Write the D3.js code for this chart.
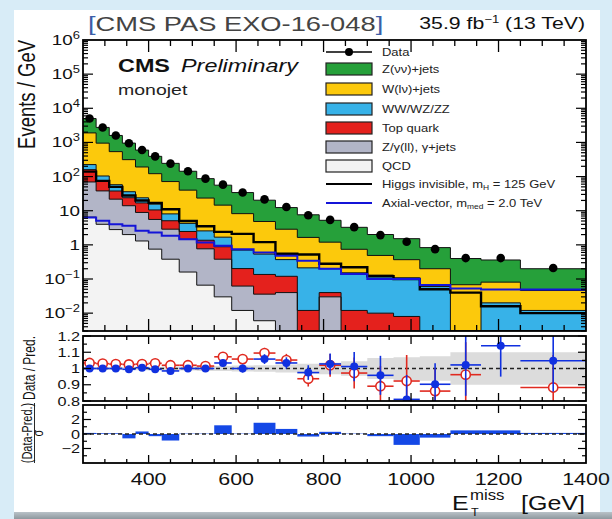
<!DOCTYPE html>
<html><head><meta charset="utf-8">
<script src="https://cdn.jsdelivr.net/npm/d3@7"></script>
<style>
html,body{margin:0;padding:0;background:#d8ecf7;}
svg{display:block;font-family:"Liberation Sans",Arial,sans-serif;}
</style></head><body>
<svg id="c" width="612" height="519"></svg>
<script>
// ---------------- data ----------------
const edges = [250,280,310,340,370,400,430,470,510,550,590,640,690,740,790,840,900,960,1020,1090,1160,1250,1400];
const dataVals = [5000,2750,1600,950,600,390,240,143,87,58,34,21.5,12.8,7.4,5.4,3.3,1.93,1.23,0.75,0.41,0.41,0.21];
const zvv   = [3100,1796,1062,642,406,270,172.5,103,63.5,41.4,25.8,15.5,9.5,5.95,4.04,2.52,1.52,1.15,0.63,0.33,0.28,0.154];
const wlv   = [1675,850,480,277,167,106,63.4,35.8,20.9,12.9,7.5,4.3,2.5,1.44,1.0,0.59,0.36,0.26,0.14,0.068,0.061,0.034];
const dibos = [65,30,20,12,7,5,3,1.8,1.2,0.8,0.5,0.4,0.25,0.2,0.16,0.14,0.12,0.1,0.06,0,0.02,0.012];
const topQuark = [90,36,16,10,8,5,2.2,1.0,0.6,0.5,0.14,0.1,0.08,0.012,0.01,0.012,0.01,0.008,0,0,0,0];
const zll   = [63,34,19,12,7.6,4.8,2.5,1.3,0.7,0.35,0.05,0.03,0.04,0,0.03,0,0,0,0,0,0,0];
const qcd   = [6.5,4.0,2.8,2.0,1.3,0.75,0.38,0.16,0.066,0.03,0.012,0.006,0,0,0,0,0,0,0,0,0,0];
const higgs = [140,75,50,28,20,17,11,5,3.5,2.4,2.1,1.2,0.55,0.52,0.28,0.22,0.12,0.1,0.05,0.04,0.016,0.01];
const axial = [6.3,5.1,4.0,3.6,2.6,2.3,1.84,1.47,1.17,0.94,0.75,0.6,0.48,0.34,0.2,0.14,0.1,0.1,0.067,0.053,0.049,0.049];
const ratioPost    = [1.0,1.0,1.0,0.995,1.005,0.995,0.985,1.0,1.0,1.034,1.0,1.058,1.034,0.975,1.028,1.012,0.958,0.81,0.903,1.022,1.14,1.048];
const ratioPostErr = [0.004,0.005,0.006,0.008,0.009,0.011,0.013,0.016,0.02,0.022,0.025,0.03,0.035,0.045,0.065,0.09,0.12,0.15,0.13,0.19,0.19,0.19];
const ratioPre     = [1.034,1.03,1.027,1.025,1.027,1.032,1.02,1.02,1.015,1.072,1.058,1.095,1.052,0.937,1.02,0.972,0.891,0.923,0.861,0.962,null,0.883];
const ratioPreErr  = [0.005,0.006,0.007,0.009,0.01,0.012,0.014,0.017,0.021,0.024,0.027,0.032,0.038,0.048,0.07,0.095,0.125,0.16,0.14,0.2,0.2,0.2];
const bandErr      = [0.008,0.008,0.008,0.009,0.01,0.01,0.012,0.013,0.015,0.016,0.018,0.02,0.025,0.03,0.035,0.045,0.065,0.07,0.075,0.1,0.1,0.1];
const pullVals     = [0.15,0.1,0.1,-0.6,0.35,-0.3,-0.9,0.05,0.05,1.2,0.05,1.55,0.7,-0.35,0.3,0.05,-0.3,-1.5,-0.5,0.5,0.5,0.15];
const xTickLabels = [400,600,800,1000,1200,1400];
const yTickExps = [6,5,4,3,2,1,0,-1,-2];
const ratioTicks = [0.8,0.9,1.0,1.1,1.2];
const ratioTickLabels = ["0.8","0.9","1","1.1","1.2"];
const pullTicks = [-2,0,2];
const pullTickLabels = ["\u22122","0","2"];
const legendLabels = ["Data","Z(\u03bd\u03bd)+jets","W(l\u03bd)+jets","WW/WZ/ZZ","Top quark","Z/\u03b3(ll), \u03b3+jets","QCD","Higgs invisible","Axial-vector"];

// ---------------- layout ----------------
const svg = d3.select('#c');
const SX = 1.3;
const X0 = 83, X1 = 586;
const x = d3.scaleLinear().domain([250,1400]).range([X0,X1]);
const yMain = d3.scaleLog().domain([0.003,1e6]).range([331,40]).clamp(true);
const yRatio = d3.scaleLinear().domain([0.8,1.2]).range([401,336]);
const yPull = d3.scaleLinear().domain([-4,4]).range([463,405]);

svg.append('rect').attr('width',612).attr('height',519).attr('fill','#d8ecf7');
svg.append('rect').attr('x',14).attr('y',10).attr('width',586).attr('height',502).attr('fill','#ffffff');
const defs = svg.append('defs');
const grad = defs.append('linearGradient').attr('id','sh').attr('x1',0).attr('y1',0).attr('x2',0).attr('y2',1);
grad.append('stop').attr('offset','0').attr('stop-color','#b9c2c8');
grad.append('stop').attr('offset','1').attr('stop-color','#8e989e');
svg.append('rect').attr('x',14).attr('y',512).attr('width',598).attr('height',7).attr('fill','url(#sh)');

function clip(id,y0,y1){ defs.append('clipPath').attr('id',id).append('rect').attr('x',X0).attr('y',y0).attr('width',X1-X0).attr('height',y1-y0); }
clip('cm',40,331); clip('cr',336,401); clip('cp',405,463);

function T(parent,px,py,o){
  const t = parent.append('text')
    .attr('transform',`translate(${px},${py}) scale(${o.sx||SX},1)${o.rot?' rotate(-90)':''}`)
    .attr('font-size',o.fs).attr('text-anchor',o.anchor||'start').attr('fill',o.fill||'#000');
  if(o.weight) t.attr('font-weight',o.weight);
  if(o.style) t.attr('font-style',o.style);
  if(o.text!==undefined) t.text(o.text);
  return t;
}

const bins = edges.slice(0,-1).map((e,i)=>({lo:e,hi:edges[i+1],c:(e+edges[i+1])/2}));
function stepPts(vals){ const p=[]; vals.forEach((v,i)=>{ if(v===null) return; p.push([edges[i],v]); p.push([edges[i+1],v]); }); return p; }

// ---------------- main panel ----------------
const gm = svg.append('g').attr('clip-path','url(#cm)');
const keys = ['qcd','zll','top','vv','wlv','zvv'];
const colors = {qcd:'#f3f3f3',zll:'#b2b5c7',top:'#e4211d',vv:'#37b2e8',wlv:'#fcc90c',zvv:'#26a03a'};
const rows = bins.map((b,i)=>({qcd:qcd[i],zll:zll[i],top:topQuark[i],vv:dibos[i],wlv:wlv[i],zvv:zvv[i]}));
const series = d3.stack().keys(keys)(rows);
const area = d3.area().x(d=>x(d[0])).y0(331).y1(d=>yMain(Math.max(d[1],1e-5)));
const line = d3.line().x(d=>x(d[0])).y(d=>yMain(Math.max(d[1],1e-5)));
series.slice().reverse().forEach(s=>{
  gm.append('path').attr('d',area(stepPts(s.map(d=>d[1])))).attr('fill',colors[s.key]);
});
series.forEach(s=>{
  gm.append('path').attr('d',line(stepPts(s.map(d=>d[1])))).attr('fill','none').attr('stroke','#111').attr('stroke-width',1);
});
gm.append('path').attr('d',line(stepPts(higgs))).attr('fill','none').attr('stroke','#000').attr('stroke-width',2.4);
gm.append('path').attr('d',line(stepPts(axial))).attr('fill','none').attr('stroke','#1414d8').attr('stroke-width',2);
gm.selectAll('circle.d').data(bins).enter().append('circle')
  .attr('cx',d=>x(d.c)).attr('cy',(d,i)=>yMain(dataVals[i])).attr('r',4.3).attr('fill','#000');

// ---------------- ratio panel ----------------
const gr = svg.append('g').attr('clip-path','url(#cr)');
const bandArea = d3.area().x(d=>x(d[0])).y0(d=>yRatio(1-d[1])).y1(d=>yRatio(1+d[1]));
gr.append('path').attr('d',bandArea(stepPts(bandErr))).attr('fill','#dcdcdc');
gr.append('line').attr('x1',X0).attr('x2',X1).attr('y1',yRatio(1)).attr('y2',yRatio(1))
  .attr('stroke','#222').attr('stroke-width',1.6).attr('stroke-dasharray','4,3');
function ratioSeries(vals,errs,col,open){
  bins.forEach((b,i)=>{
    const v = vals[i]; if(v===null) return;
    gr.append('line').attr('x1',x(b.lo)).attr('x2',x(b.hi)).attr('y1',yRatio(v)).attr('y2',yRatio(v)).attr('stroke',col).attr('stroke-width',1.6);
    gr.append('line').attr('x1',x(b.c)).attr('x2',x(b.c)).attr('y1',yRatio(v-errs[i])).attr('y2',yRatio(v+errs[i])).attr('stroke',col).attr('stroke-width',1.6);
    gr.append('circle').attr('cx',x(b.c)).attr('cy',yRatio(v)).attr('r',open?4.6:4)
      .attr('fill',open?'#fff':col).attr('stroke',col).attr('stroke-width',open?1.6:0);
  });
}
ratioSeries(ratioPre,ratioPreErr,'#e02a20',true);
ratioSeries(ratioPost,ratioPostErr,'#1030e0',false);

// ---------------- pull panel ----------------
const gp = svg.append('g').attr('clip-path','url(#cp)');
gp.selectAll('rect.p').data(bins).enter().append('rect')
  .attr('x',d=>x(d.lo)).attr('width',d=>x(d.hi)-x(d.lo))
  .attr('y',(d,i)=>yPull(Math.max(0,pullVals[i]))).attr('height',(d,i)=>Math.abs(yPull(pullVals[i])-yPull(0)))
  .attr('fill','#1448e6');
gp.append('line').attr('x1',X0).attr('x2',X1).attr('y1',yPull(0)).attr('y2',yPull(0))
  .attr('stroke','#222').attr('stroke-width',1.4).attr('stroke-dasharray','4,3');

// ---------------- frames & ticks ----------------
const axG = svg.append('g').attr('stroke','#000');
function frame(y0,y1){ axG.append('rect').attr('x',X0).attr('y',y0).attr('width',X1-X0).attr('height',y1-y0).attr('fill','none').attr('stroke-width',1.8); }
frame(40,331); frame(336,401); frame(405,463);
function xTicks(y0,y1,maj,mn){
  d3.range(300,1400,50).forEach(v=>{
    const L = (v%200===0)?maj:mn;
    axG.append('line').attr('x1',x(v)).attr('x2',x(v)).attr('y1',y1).attr('y2',y1-L).attr('stroke-width',1.3);
    axG.append('line').attr('x1',x(v)).attr('x2',x(v)).attr('y1',y0).attr('y2',y0+L).attr('stroke-width',1.3);
  });
}
xTicks(40,331,12,6); xTicks(336,401,8,4); xTicks(405,463,8,4);
function yTick(yy,L){
  axG.append('line').attr('x1',X0).attr('x2',X0+L).attr('y1',yy).attr('y2',yy).attr('stroke-width',1.2);
  axG.append('line').attr('x1',X1).attr('x2',X1-L).attr('y1',yy).attr('y2',yy).attr('stroke-width',1.2);
}
for(let e=-3;e<6;e++){ for(let m=1;m<10;m++){ const v=m*Math.pow(10,e); if(v<0.003||v>1e6) continue; yTick(yMain(v), m===1?10:5); } }
d3.range(0.8,1.201,0.05).forEach(v=>yTick(yRatio(v), Math.abs(v*10-Math.round(v*10))<1e-6?8:4));
d3.range(-3,4,1).forEach(v=>yTick(yPull(v), v%2===0?8:4));

// ---------------- tick labels ----------------
const lab = svg.append('g');
yTickExps.forEach(e=>{
  const t = T(lab,80,yMain(Math.pow(10,e))+5,{fs:14.5,anchor:'end',fill:'#111'});
  if(e===1) t.text('10'); else if(e===0) t.text('1');
  else { t.append('tspan').text('10'); t.append('tspan').attr('dy',-6).attr('font-size',10).text(e<0?'\u2212'+(-e):String(e)); }
});
ratioTicks.forEach((v,i)=>T(lab,80,yRatio(v)+4.5,{fs:12.5,anchor:'end',text:ratioTickLabels[i],fill:'#111'}));
pullTicks.forEach((v,i)=>T(lab,80,yPull(v)+4.5,{fs:12.5,anchor:'end',text:pullTickLabels[i],fill:'#111'}));
xTickLabels.forEach(v=>T(lab,x(v),485,{fs:16.5,anchor:'middle',text:String(v),fill:'#111'}));

// axis titles
T(lab,35,40,{fs:18.5,rot:true,anchor:'end',text:'Events / GeV',fill:'#111'});
T(lab,35,368,{fs:12,rot:true,anchor:'middle',text:'Data / Pred.',fill:'#111'});
T(lab,32,433,{fs:11,rot:true,anchor:'middle',text:'(Data-Pred.)',fill:'#111'});
lab.append('line').attr('x1',34.5).attr('x2',34.5).attr('y1',403).attr('y2',463).attr('stroke','#111').attr('stroke-width',0.9);
T(lab,43,433,{fs:11,rot:true,anchor:'middle',text:'\u03c3',fill:'#111'});
T(lab,452,510,{fs:20,sx:1.25,text:'E',fill:'#111'});
T(lab,470,500,{fs:14,sx:1.2,text:'miss',fill:'#111'});
T(lab,471,516,{fs:10.5,sx:1.2,text:'T',fill:'#111'});
T(lab,521,510,{fs:20,sx:1.25,text:'[GeV]',fill:'#111'});

// header
T(lab,88,31,{fs:21,fill:'#444'}).call(t=>{
  t.append('tspan').attr('fill','#3b5ea8').text('[');
  t.append('tspan').text('CMS PAS EXO-16-048');
  t.append('tspan').attr('fill','#3b5ea8').text(']');
});
T(lab,585,29,{fs:17,sx:1.25,anchor:'end',fill:'#111'}).call(t=>{
  t.append('tspan').text('35.9 fb');
  t.append('tspan').attr('dy',-6).attr('font-size',10.5).text('\u22121');
  t.append('tspan').attr('dy',6).text(' (13 TeV)');
});
T(lab,118,72,{fs:18,weight:'bold',text:'CMS',fill:'#111'});
T(lab,181,72,{fs:18,style:'italic',text:'Preliminary',fill:'#111'});
T(lab,118,95,{fs:15,text:'monojet',fill:'#222'});

// ---------------- legend ----------------
const lg = svg.append('g');
const ly = [52,69,89,109,128,147,166,184,203];
const lx0 = 326, lx1 = 372, ltx = 382;
lg.append('line').attr('x1',lx0).attr('x2',lx1).attr('y1',ly[0]).attr('y2',ly[0]).attr('stroke','#000').attr('stroke-width',1.5);
lg.append('circle').attr('cx',(lx0+lx1)/2).attr('cy',ly[0]).attr('r',4).attr('fill','#000');
const boxKeys = ['zvv','wlv','vv','top','zll','qcd'];
boxKeys.forEach((k,i)=>{
  lg.append('rect').attr('x',lx0).attr('y',ly[i+1]-6).attr('width',lx1-lx0).attr('height',12)
    .attr('fill',colors[k]).attr('stroke','#222').attr('stroke-width',1.2);
});
lg.append('line').attr('x1',lx0).attr('x2',lx1).attr('y1',ly[7]).attr('y2',ly[7]).attr('stroke','#000').attr('stroke-width',2.2);
lg.append('line').attr('x1',lx0).attr('x2',lx1).attr('y1',ly[8]).attr('y2',ly[8]).attr('stroke','#1414d8').attr('stroke-width',2.2);
legendLabels.forEach((s,i)=>{
  const t = T(lg,ltx,ly[i]+3.5,{fs:10,fill:'#222'});
  if(i===7){ t.append('tspan').text('Higgs invisible, m'); t.append('tspan').attr('dy',2.5).attr('font-size',6.5).text('H'); t.append('tspan').attr('dy',-2.5).text(' = 125 GeV'); }
  else if(i===8){ t.append('tspan').text('Axial-vector, m'); t.append('tspan').attr('dy',2.5).attr('font-size',6.5).text('med'); t.append('tspan').attr('dy',-2.5).text(' = 2.0 TeV'); }
  else t.text(s);
});
</script>
</body></html>
